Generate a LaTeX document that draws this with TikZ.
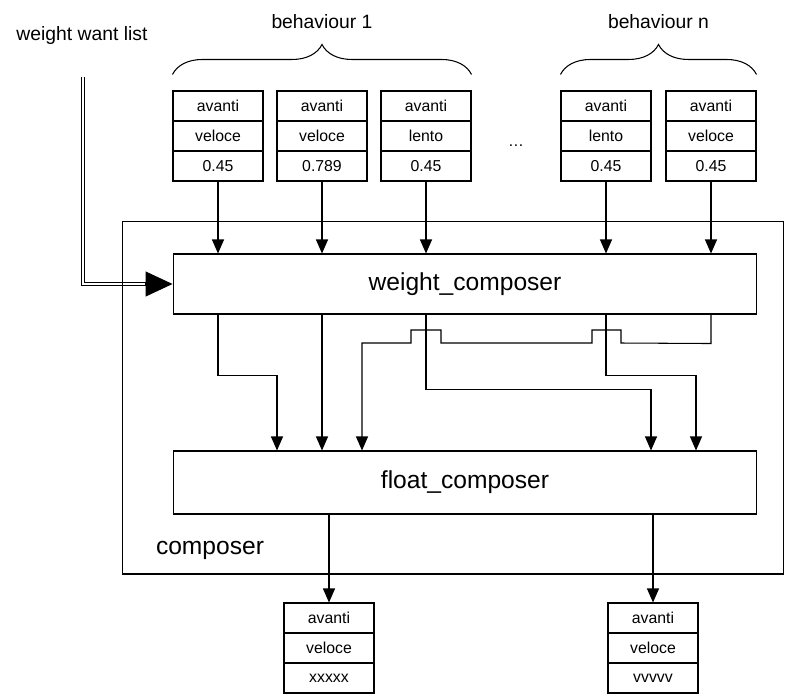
\documentclass[tikz,border=0pt]{standalone}
\usepackage{fontspec}
\setmainfont{Liberation Sans}
\usetikzlibrary{arrows.meta,decorations.pathreplacing}

\begin{document}
\begin{tikzpicture}[x=0.02cm,y=-0.02cm,line width=0.6pt,>={Triangle[width=0.24cm,length=0.28cm]},
	cell/.style={draw,minimum width=1.8cm,minimum height=0.6cm,inner sep=0pt,font=\fontsize{9}{10}\selectfont},
	block/.style={draw,minimum width=11.68cm,inner sep=0pt,font=\fontsize{14}{16}\selectfont},
	brc/.style={decorate,decoration={brace,amplitude=0.6cm}},
	lbl/.style={font=\fontsize{11}{13}\selectfont},
	dblline/.style={double,double distance=1.2pt,line width=0.5pt},
	bigarr/.style={-{Triangle[width=0.5cm,length=0.54cm]}}]
		\useasboundingbox (0,0) rectangle (788,697);
		% behaviour 1
		\node [cell] (b1a) at (218,106) {avanti};
		\node [cell] (b1b) at (218,136) {veloce};
		\node [cell] (b1c) at (218,166) {0.45};
		\node [cell] (b2a) at (322,106) {avanti};
		\node [cell] (b2b) at (322,136) {veloce};
		\node [cell] (b2c) at (322,166) {0.789};
		\node [cell] (b3a) at (426,106) {avanti};
		\node [cell] (b3b) at (426,136) {lento};
		\node [cell] (b3c) at (426,166) {0.45};
		\node [font=\fontsize{9}{10}\selectfont] (dots) at (516,146) {\ldots};
		% behaviour n
		\node [cell] (b4a) at (606,106) {avanti};
		\node [cell] (b4b) at (606,136) {lento};
		\node [cell] (b4c) at (606,166) {0.45};
		\node [cell] (b5a) at (711,106) {avanti};
		\node [cell] (b5b) at (711,136) {veloce};
		\node [cell] (b5c) at (711,166) {0.45};
		\draw [brc] ([yshift=0.32cm]b1a.north west) -- ([yshift=0.32cm]b3a.north east) node [lbl,midway,above=0.78cm] (beh1) {behaviour 1};
		\draw [brc] ([yshift=0.32cm]b4a.north west) -- ([yshift=0.32cm]b5a.north east) node [lbl,midway,above=0.78cm] (behn) {behaviour n};
		
		\node [block,minimum height=1.2cm] (wc) at (465,284) {weight\_composer};
		\node [block,minimum height=1.26cm] (fc) at (465,482.5) {float\_composer};
		
		\node [lbl] (wwltxt) at (82,35) {weight want list};
		\coordinate (wwl) at (83,77);
		\draw [dblline] (wwl) |- ([xshift=-0.53cm]wc.west);
		\draw [bigarr] ([xshift=-0.56cm]wc.west) -- (wc.west);
		
		\node [draw,minimum width=13.24cm,minimum height=7.06cm] (comp) at (453,397.5) {};
		\node [font=\fontsize{14}{16}\selectfont] (complbl) at (210,550) {composer};
		
		\path [->] (b1c.south) edge (b1c.south |- wc.north);
		\path [->] (b2c.south) edge (b2c.south |- wc.north);
		\path [->] (b3c.south) edge (b3c.south |- wc.north);
		\path [->] (b4c.south) edge (b4c.south |- wc.north);
		\path [->] (b5c.south) edge (b5c.south |- wc.north);
		
		% wc -> fc
		\draw [->] (wc.south -| b1c) -- ++(0,61) -| (277,0 |- fc.north);
		\draw [->] (wc.south -| b2c) -- (fc.north -| b2c);
		\draw [->] (wc.south -| b3c) -- ++(0,75) -| (651,0 |- fc.north);
		\draw [->] (wc.south -| b4c) -- ++(0,61) -| (696,0 |- fc.north);
		\draw [->] (wc.south -| b5c) -- ++(0,29) -- (621,343) -- ++(0,-13) -- ++(-29,0) -- ++(0,13)
			-- (441,343) -- ++(0,-13) -- ++(-30,0) -- ++(0,13) -| (362,0 |- fc.north);
		
		% output
		\node [cell] (o1a) at (329,618) {avanti};
		\node [cell] (o1b) at (329,648) {veloce};
		\node [cell] (o1c) at (329,678) {xxxxx};
		\node [cell] (o2a) at (653,618) {avanti};
		\node [cell] (o2b) at (653,648) {veloce};
		\node [cell] (o2c) at (653,678) {vvvvv};
		\path [->] (fc.south -| o1a) edge (o1a.north);
		\path [->] (fc.south -| o2a) edge (o2a.north);
\end{tikzpicture}
\end{document}
